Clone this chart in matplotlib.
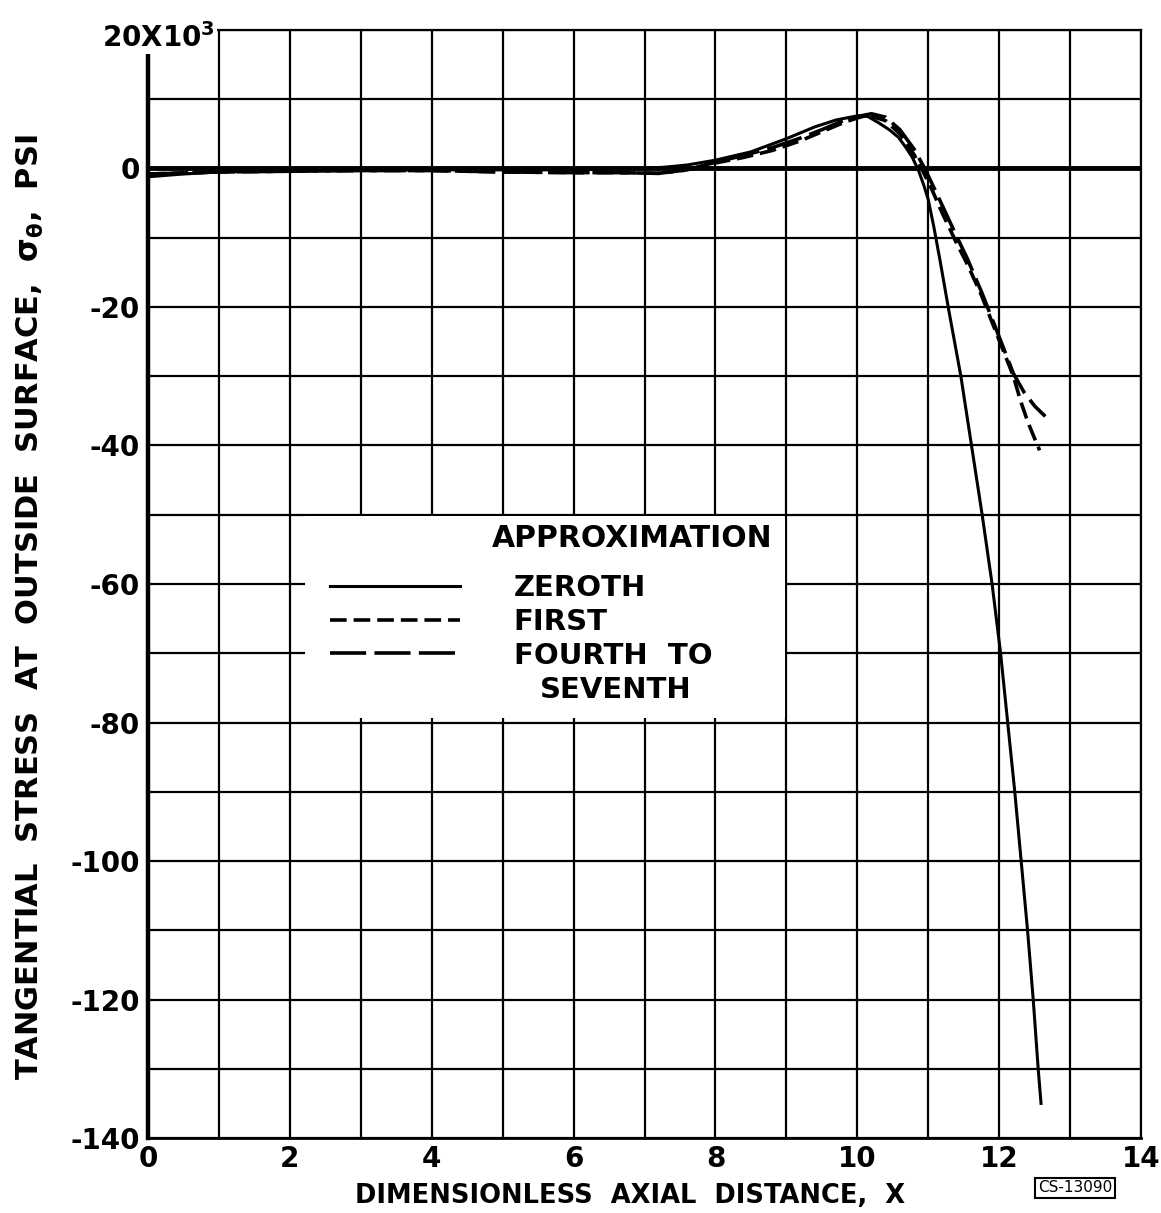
import numpy as np
import matplotlib
matplotlib.use("Agg")
import matplotlib.pyplot as plt
from matplotlib.patches import Rectangle

plt.rcParams['font.family'] = ['DejaVu Sans']
plt.rcParams['font.weight'] = 'bold'
plt.rcParams['mathtext.default'] = 'bf'
plt.rcParams['lines.scale_dashes'] = False

# ---------------- data ----------------
x_zeroth = [0, 0.5, 1, 2, 3, 4, 5, 6, 6.5, 7.0, 7.3, 7.6, 8.0, 8.5, 9.0, 9.4,
            9.7, 10.0, 10.15, 10.3, 10.45, 10.58, 10.68, 10.77, 10.86, 10.94,
            11.0, 11.08, 11.17, 11.29, 11.46, 11.61, 11.76, 11.9, 12.02, 12.12,
            12.22, 12.31, 12.4, 12.48, 12.55, 12.59]
y_zeroth = [-1.2, -0.8, -0.5, -0.3, -0.2, -0.2, -0.2, -0.2, -0.1, 0.0, 0.2, 0.5,
            1.2, 2.4, 4.3, 6.0, 7.0, 7.6, 7.5, 6.6, 5.6, 4.5, 3.1, 1.7, -0.2,
            -2.5, -4.5, -8.5, -13.5, -20.5, -30, -40, -50, -60, -70, -80, -90,
            -100, -110, -120, -130, -135]

x_first = [0, 1, 2, 3, 4, 5, 6, 6.6, 7.2, 7.6, 8.0, 8.4, 8.8, 9.2, 9.5, 9.8,
           10.0, 10.15, 10.4, 10.6, 10.8, 10.92, 11.05, 11.2, 11.4, 11.55, 11.75,
           11.95, 12.2, 12.3, 12.4, 12.5, 12.57]
y_first = [-0.8, -0.5, -0.4, -0.3, -0.3, -0.5, -0.6, -0.6, -0.7, -0.2, 0.8, 1.6,
           2.6, 4.0, 5.3, 6.6, 7.3, 7.7, 6.9, 5.0, 2.0, -0.3, -3.0, -6.5, -10.8,
           -13.8, -18.3, -23.5, -30.0, -33.5, -36.5, -39.0, -40.7]

x_fourth = [0, 1, 2, 3, 4, 5, 6, 6.6, 7.2, 7.6, 8.0, 8.4, 8.8, 9.2, 9.5, 9.8,
            10.0, 10.2, 10.4, 10.6, 10.8, 10.95, 11.1, 11.25, 11.4, 11.55, 11.75,
            11.95, 12.2, 12.35, 12.5, 12.65]
y_fourth = [-0.8, -0.5, -0.4, -0.3, -0.3, -0.5, -0.6, -0.6, -0.7, -0.2, 0.9, 1.9,
            3.0, 4.4, 5.6, 6.9, 7.5, 7.9, 7.4, 5.6, 2.8, 0.0, -3.2, -6.5, -9.8,
            -13.0, -17.8, -23.0, -29.6, -32.3, -34.3, -35.8]

x_ticks = [0, 2, 4, 6, 8, 10, 12, 14]
x_tick_labels = ['0', '2', '4', '6', '8', '10', '12', '14']
y_ticks = [20, 0, -20, -40, -60, -80, -100, -120, -140]
y_tick_labels = ['', '0', '-20', '-40', '-60', '-80', '-100', '-120', '-140']
top_label = '20X10$^3$'
legend_title = 'APPROXIMATION'
legend_labels = ['ZEROTH', 'FIRST', 'FOURTH  TO']
legend_extra = 'SEVENTH'
x_title = 'DIMENSIONLESS  AXIAL  DISTANCE,  X'
y_title = r'TANGENTIAL  STRESS  AT  OUTSIDE  SURFACE,  $\sigma_\theta$,  PSI'
stamp = 'CS-13090'

# ---------------- figure ----------------
fig = plt.figure(figsize=(11.61, 12.13), dpi=100)
ax = fig.add_axes([0.1275, 0.0618, 0.8553, 0.9135])
ax.set_xlim(0, 14)
ax.set_ylim(-140, 20)

ax.set_xticks(x_ticks)
ax.set_xticklabels(x_tick_labels)
ax.set_yticks(y_ticks)
ax.set_yticklabels(y_tick_labels)
ax.set_xticks(np.arange(0, 15, 1), minor=True)
ax.set_yticks(np.arange(-140, 21, 10), minor=True)
ax.grid(which='both', color='black', lw=1.6)
ax.set_axisbelow(True)
ax.tick_params(which='both', length=0)
ax.tick_params(axis='x', labelsize=20, pad=5)
ax.tick_params(axis='y', labelsize=20, pad=6)

for s in ['top', 'right']:
    ax.spines[s].set_linewidth(1.6)
ax.spines['left'].set_linewidth(3.2)
ax.spines['bottom'].set_linewidth(2.0)

ax.axhline(0, color='black', lw=3.5, zorder=2)

l0, = ax.plot(x_zeroth, y_zeroth, color='black', lw=2.2, zorder=3)
l1, = ax.plot(x_first, y_first, color='black', lw=2.6, dashes=(12, 5), zorder=3)
l2, = ax.plot(x_fourth, y_fourth, color='black', lw=2.6, dashes=(26, 6), zorder=3)

# white legend panel
ax.add_patch(Rectangle((0.158, 0.379), 0.483, 0.1825, transform=ax.transAxes,
                       facecolor='white', edgecolor='none', zorder=2.6))
leg = ax.legend([l0, l1, l2], legend_labels, loc='upper left',
                bbox_to_anchor=(0.183, 0.509), frameon=False, fontsize=21,
                handlelength=4.46, handletextpad=1.85, labelspacing=0.2,
                borderpad=0, borderaxespad=0)
leg.set_zorder(4)
ax.text(0.3464, 0.5415, legend_title, transform=ax.transAxes, fontsize=21.5,
        ha='left', va='center', zorder=5)
ax.text(0.3948, 0.4043, legend_extra, transform=ax.transAxes, fontsize=21,
        ha='left', va='center', zorder=5)

# top y label
ax.text(0.011, 0.993, top_label, transform=ax.transAxes, fontsize=20,
        ha='center', va='center', zorder=6, clip_on=False,
        bbox=dict(facecolor='white', edgecolor='none', pad=1))

fig.text(30 / 1161, 1 - 607 / 1213, y_title, rotation=90, fontsize=22,
         ha='center', va='center')
fig.text(630 / 1161, 1 - 1203 / 1213, x_title, fontsize=18.5,
         ha='center', va='baseline')
fig.text(1075 / 1161, 1 - 1188 / 1213, stamp, fontsize=11, fontweight='normal',
         ha='center', va='center',
         bbox=dict(facecolor='white', edgecolor='black', lw=1.5, pad=2))

fig.savefig('out.png', dpi=100)
